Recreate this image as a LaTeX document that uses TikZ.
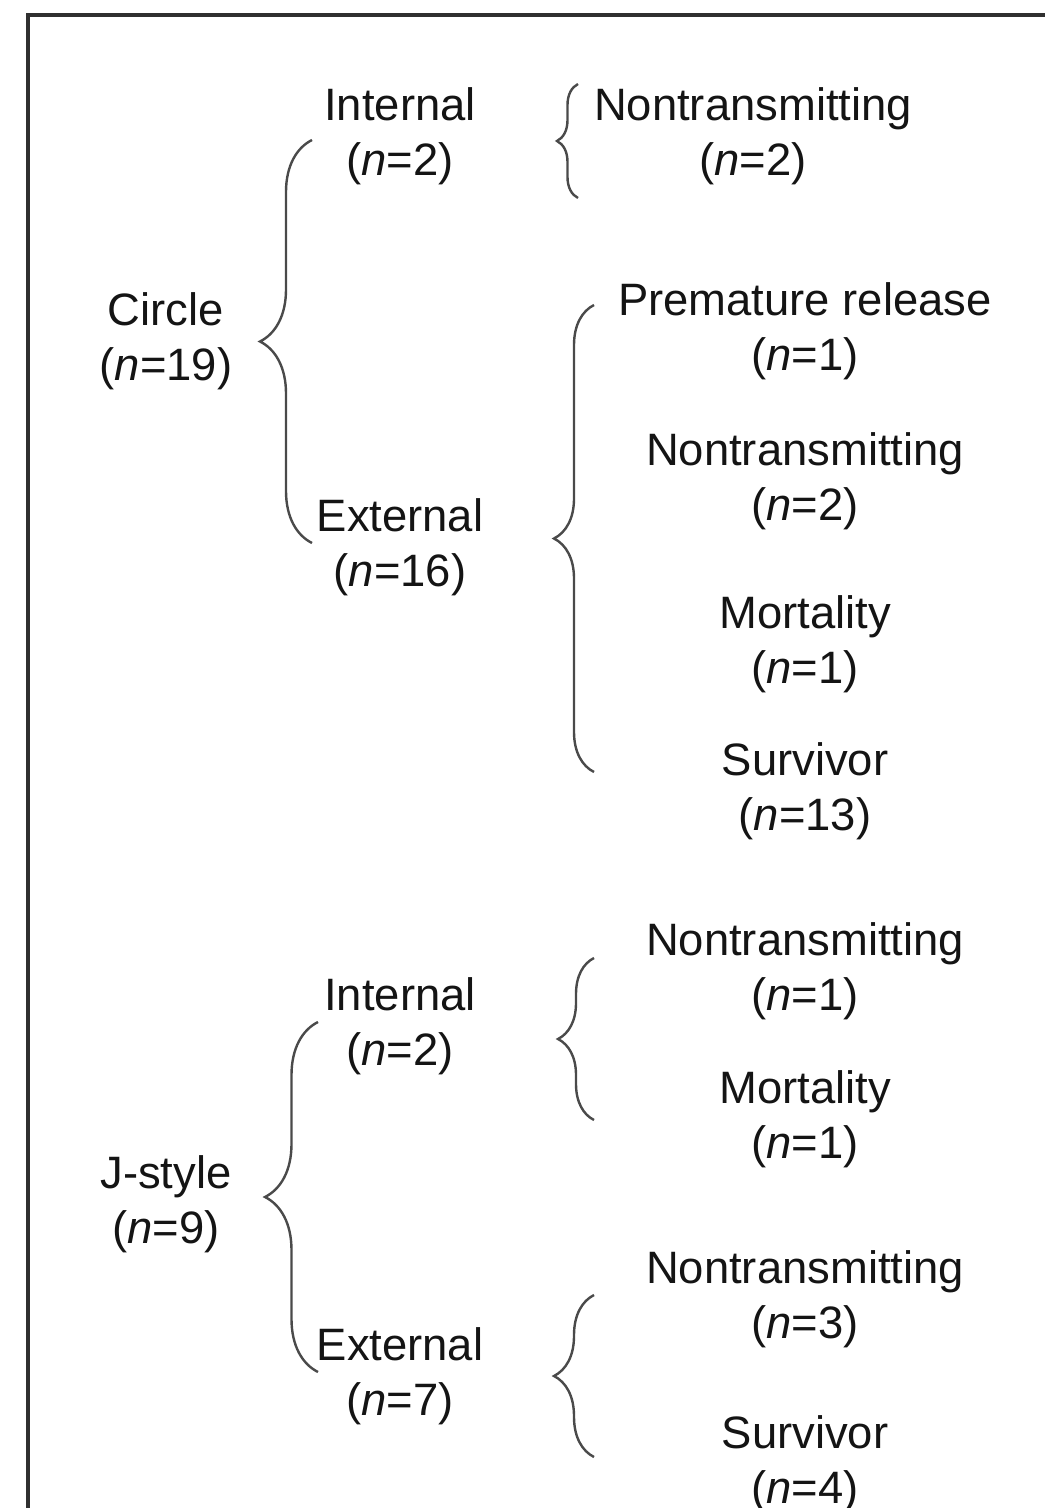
\documentclass[tikz,border=0pt]{standalone}
\usepackage{fontspec}
\setmainfont{Liberation Sans}
\usepackage{tikz}
\usetikzlibrary{decorations.pathreplacing}
\definecolor{inkgray}{HTML}{141414}
\definecolor{bracegray}{HTML}{4A4A4A}
\definecolor{framegray}{HTML}{303030}
\tikzstyle{frame} = [line width=1.8pt, color=framegray]

\begin{document}
\begin{tikzpicture}[x=0.5pt, y=-0.5pt,
	entry/.style={align=center, text=inkgray, inner sep=0pt, yshift=-2pt, font=\fontsize{22.7pt}{27.5pt}\selectfont},
	curly/.style={decorate, decoration={brace, amplitude=#1}, line width=1.2pt, color=bracegray}]
		
		\useasboundingbox (0,0) rectangle (1045,1508);
		\draw[frame] (28,1508) -- (28,15) -- (1045,15);
		
		% BRACE COLUMNS
		\coordinate (rootcol) at (312,0);
		\coordinate (jcol) at (318,0);
		\coordinate (leafcol) at (578,0);
		\coordinate (leafcolb) at (594,0);
		
		% CIRCLE
		
		\node[entry] (circle) at (166,337) {Circle\\(\textit{n}=19)};
		\node[entry] (circint) at (400,132) {Internal\\(\textit{n}=2)};
		\node[entry] (circext) at (400,543) {External\\(\textit{n}=16)};
		
		\node[entry] (circintnt) at (753,132) {Nontransmitting\\(\textit{n}=2)};
		
		\node[entry] (circextpr) at (805,327) {Premature release\\(\textit{n}=1)};
		\node[entry] (circextnt) at (805,477) {Nontransmitting\\(\textit{n}=2)};
		\node[entry] (circextmo) at (805,640) {Mortality\\(\textit{n}=1)};
		\node[entry] (circextsu) at (805,787) {Survivor\\(\textit{n}=13)};
		
		\draw[curly=26pt] ([yshift=2pt]rootcol |- circext) -- ([yshift=-2pt]rootcol |- circint);
		\draw[curly=10.5pt] ([yshift=-31pt]leafcol |- circintnt) -- ([yshift=26pt]leafcol |- circintnt);
		\draw[curly=20pt] ([yshift=9.5pt]leafcolb |- circextsu) -- ([yshift=13pt]leafcolb |- circextpr);
		
		% J-STYLE
		
		\node[entry] (jstyle) at (166,1200) {J-style\\(\textit{n}=9)};
		\node[entry] (jint) at (400,1022) {Internal\\(\textit{n}=2)};
		\node[entry] (jext) at (400,1372) {External\\(\textit{n}=7)};
		
		\node[entry] (jintnt) at (805,967) {Nontransmitting\\(\textit{n}=1)};
		\node[entry] (jintmo) at (805,1115) {Mortality\\(\textit{n}=1)};
		
		\node[entry] (jextnt) at (805,1295) {Nontransmitting\\(\textit{n}=3)};
		\node[entry] (jextsu) at (805,1460) {Survivor\\(\textit{n}=4)};
		
		\draw[curly=26.5pt] ([yshift=2pt]jcol |- jext) -- ([yshift=2pt]jcol |- jint);
		\draw[curly=18pt] ([yshift=-0.5pt]leafcolb |- jintmo) -- ([yshift=6.5pt]leafcolb |- jintnt);
		\draw[curly=20pt] ([yshift=3.5pt]leafcolb |- jextsu) -- ([yshift=2pt]leafcolb |- jextnt);
		
		\end{tikzpicture}
\end{document}
